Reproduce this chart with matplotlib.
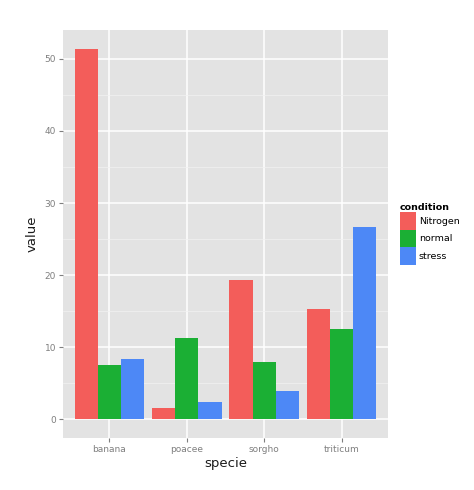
import matplotlib
matplotlib.use("Agg")
import matplotlib.pyplot as plt
import numpy as np

species = ["banana", "poacee", "sorgho", "triticum"]
conditions = ["Nitrogen", "normal", "stress"]
nitrogen = [51.4, 1.55, 19.3, 15.25]
normal = [7.55, 11.25, 8.0, 12.6]
stress = [8.4, 2.4, 3.9, 26.75]
yticks = [0, 10, 20, 30, 40, 50]

series = [nitrogen, normal, stress]
colors = ["#F35D5A", "#1BAF34", "#4D88F6"]

fig = plt.figure(figsize=(4.74, 4.9), dpi=100)
W, H = 474, 490
left, right, top, bottom = 63, 388, 30, 438
ax = fig.add_axes([left / W, (H - bottom) / H, (right - left) / W, (bottom - top) / H])
ax.set_facecolor("#E3E3E3")

x = np.arange(1, len(species) + 1)
bw = 0.3
for i, (vals, c, lab) in enumerate(zip(series, colors, conditions)):
    ax.bar(x + (i - 1) * bw, vals, width=bw, color=c, label=lab, zorder=3, linewidth=0)

ax.set_xlim(0.4, 4.6)
ax.set_ylim(-2.57, 54.0)
ax.set_yticks(yticks)
ax.set_yticks([5, 15, 25, 35, 45], minor=True)
ax.set_xticks(x)
ax.set_xticklabels(species)
ax.grid(which="major", color="white", linewidth=1.1, zorder=1)
ax.grid(which="minor", axis="y", color="#F2F2F2", linewidth=0.5, zorder=1)
for s in ax.spines.values():
    s.set_visible(False)
ax.tick_params(axis="both", which="major", colors="#7F7F7F", labelsize=6.5, length=3, width=0.8, pad=2)
ax.tick_params(axis="both", which="minor", length=0)
for t in ax.get_xticklabels() + ax.get_yticklabels():
    t.set_color("#7F7F7F")

ax.set_xlabel("specie", fontsize=9.5, color="#1A1A1A", labelpad=2)
ax.set_ylabel("value", fontsize=9.5, color="#1A1A1A", labelpad=4)

leg = ax.legend(title="condition", loc="upper left", bbox_to_anchor=(400 / W, (H - 203) / H),
                bbox_transform=fig.transFigure, frameon=False, fontsize=6.8,
                title_fontsize=6.8, handlelength=1.7, handleheight=2.5, handletextpad=0.3,
                labelspacing=0.0, borderaxespad=0, borderpad=0)
leg.get_title().set_fontweight("bold")
leg._legend_box.align = "left"

fig.savefig("out.png", dpi=100, facecolor="white")
